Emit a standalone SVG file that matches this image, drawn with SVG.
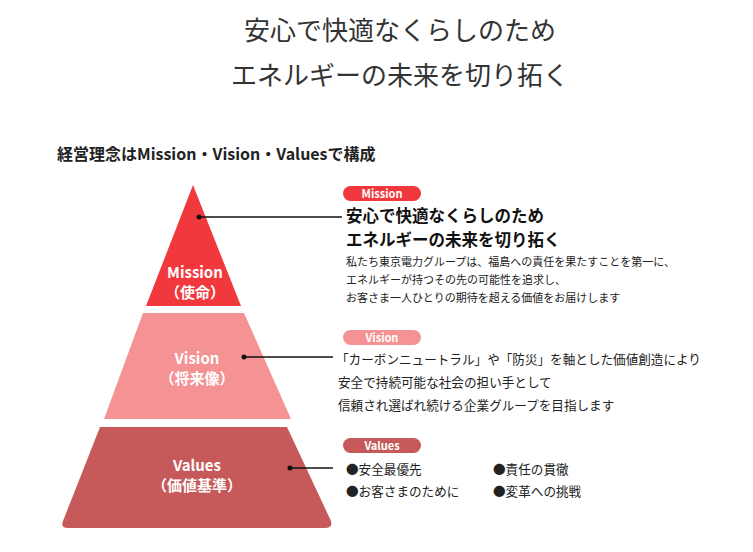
<svg xmlns="http://www.w3.org/2000/svg" width="753" height="552" viewBox="0 0 753 552">
<style>
text{font-family:"Noto Sans CJK JP","Noto Sans",sans-serif}
.t{fill:#333;font-size:26px;text-anchor:middle}
.lab{fill:#fff;font-size:15px;font-weight:bold;text-anchor:middle}
.pill{fill:#fff;font-size:11px;font-weight:bold;text-anchor:middle}
.b{fill:#222;font-size:12.6px}
.l{stroke:#111;stroke-width:1.3}
</style>
<rect width="753" height="552" fill="#fff"/>
<text class="t" x="400" y="40">安心で快適なくらしのため</text>
<text class="t" x="400" y="85">エネルギーの未来を切り拓く</text>
<text x="57" y="160" style="font-size:16px;font-weight:bold;fill:#222">経営理念はMission・Vision・Valuesで構成</text>
<g id="mission">
<path d="M193 185 L241 306 L146 306 Z" fill="#f0383d"/>
<text class="lab" x="195" y="278">Mission</text><text class="lab" x="195" y="298">（使命）</text>
<rect x="343" y="186" width="78" height="15" rx="7.5" fill="#f0383d"/><text class="pill" x="382" y="197.5">Mission</text>
<text x="346" y="222" style="font-size:16.5px;font-weight:bold;fill:#111">安心で快適なくらしのため</text>
<text x="346" y="246" style="font-size:16.5px;font-weight:bold;fill:#111">エネルギーの未来を切り拓く</text>
<text class="b" x="346" y="266" style="font-size:11px">私たち東京電力グループは、福島への責任を果たすことを第一に、</text>
<text class="b" x="346" y="284" style="font-size:11px">エネルギーが持つその先の可能性を追求し、</text>
<text class="b" x="346" y="302" style="font-size:11px">お客さま一人ひとりの期待を超える価値をお届けします</text>
</g>
<g id="vision">
<path d="M143 313 L244 313 L291 419 L104 419 Z" fill="#f59394"/>
<text class="lab" x="197" y="364">Vision</text><text class="lab" x="197" y="384">（将来像）</text>
<rect x="343" y="330" width="78" height="15" rx="7.5" fill="#f59394"/><text class="pill" x="382" y="341.5">Vision</text>
<text class="b" x="336" y="364">「カーボンニュートラル」や「防災」を軸とした価値創造により</text>
<text class="b" x="338" y="387">安全で持続可能な社会の担い手として</text>
<text class="b" x="338" y="410">信頼され選ばれ続ける企業グループを目指します</text>
</g>
<g id="values">
<path d="M100 427 L287 427 L331 521 Q333 528 325 528 L68 528 Q60 528 63 521 Z" fill="#c65a5a"/>
<text class="lab" x="197" y="471">Values</text><text class="lab" x="197" y="491">（価値基準）</text>
<rect x="343" y="438" width="78" height="15" rx="7.5" fill="#c65a5a"/><text class="pill" x="382" y="449.5">Values</text>
<text class="b" x="346" y="474">●安全最優先</text><text class="b" x="493" y="474">●責任の貫徹</text>
<text class="b" x="346" y="496">●お客さまのために</text><text class="b" x="493" y="496">●変革への挑戦</text>
</g>
<g id="connectors">
<circle cx="199" cy="217" r="2.5" fill="#111"/><line class="l" x1="199" y1="217" x2="342" y2="217"/>
<circle cx="244" cy="357" r="2.5" fill="#111"/><line class="l" x1="244" y1="357" x2="333" y2="357"/>
<circle cx="290" cy="468" r="2.5" fill="#111"/><line class="l" x1="290" y1="468" x2="333" y2="468"/>
</g>
</svg>
